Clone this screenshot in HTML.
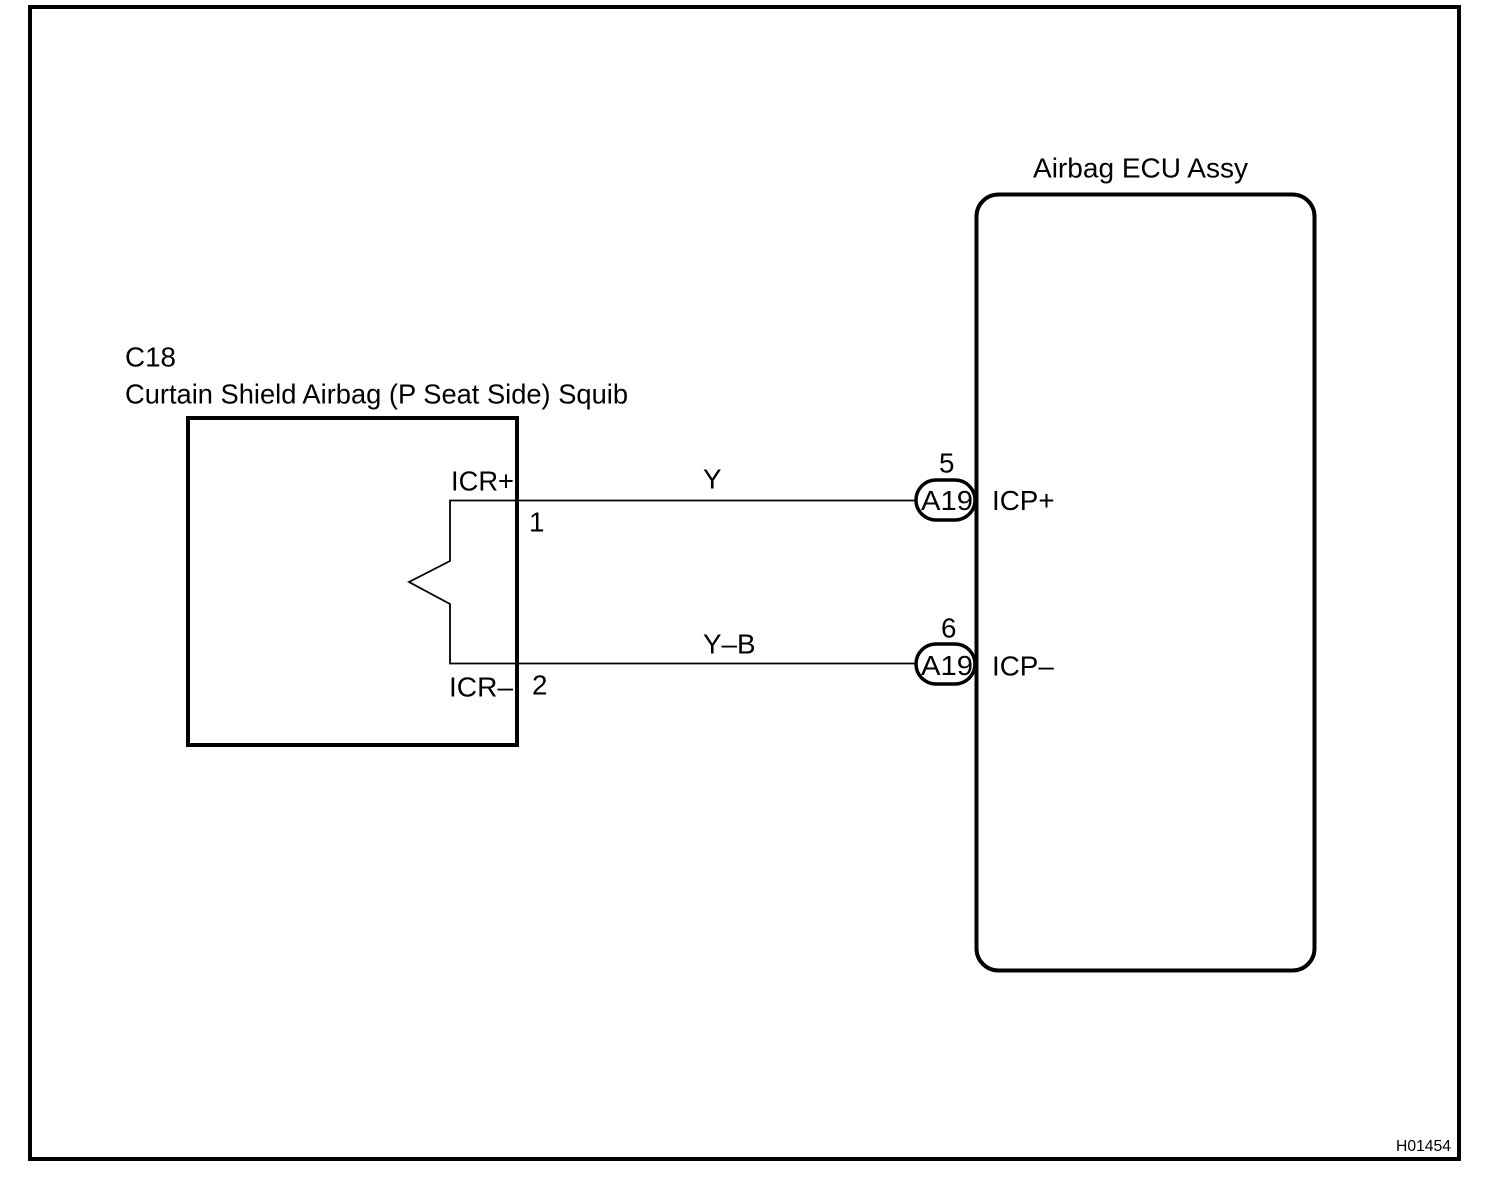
<!DOCTYPE html>
<html>
<head>
<meta charset="utf-8">
<style>
html,body{margin:0;padding:0;background:#fff;width:1504px;height:1188px;overflow:hidden}
svg{display:block}
text{font-family:"Liberation Sans",sans-serif;font-size:27.8px;fill:#000}
</style>
</head>
<body>
<svg width="1504" height="1188" viewBox="0 0 1504 1188" xmlns="http://www.w3.org/2000/svg">
<rect x="0" y="0" width="1504" height="1188" fill="#fff"/>
<rect x="30" y="7" width="1429" height="1152" fill="none" stroke="#000" stroke-width="4"/>
<rect x="188" y="418" width="329" height="327" fill="none" stroke="#000" stroke-width="4"/>
<rect x="976.5" y="194.5" width="338" height="776" rx="22" ry="22" fill="none" stroke="#000" stroke-width="4"/>
<path d="M916 500.5H450V561L409 582L450 604V663.5H916" fill="none" stroke="#000" stroke-width="1.8"/>
<rect x="916" y="480" width="59" height="40" rx="20" ry="20" fill="#fff" stroke="#000" stroke-width="3.5"/>
<rect x="916" y="644" width="59" height="40" rx="20" ry="20" fill="#fff" stroke="#000" stroke-width="3.5"/>
<text x="1033" y="177.5" textLength="215" lengthAdjust="spacingAndGlyphs">Airbag ECU Assy</text>
<text x="125" y="366.5">C18</text>
<text x="125" y="403.5" textLength="503" lengthAdjust="spacingAndGlyphs">Curtain Shield Airbag (P Seat Side) Squib</text>
<text x="451" y="490.5" textLength="63" lengthAdjust="spacingAndGlyphs">ICR+</text>
<text x="449" y="696.5" textLength="64" lengthAdjust="spacingAndGlyphs">ICR–</text>
<text x="529" y="531.5">1</text>
<text x="532" y="694.5">2</text>
<text x="703" y="488.5">Y</text>
<text x="703" y="653.5">Y–B</text>
<text x="939" y="472.5">5</text>
<text x="941" y="637.5">6</text>
<text x="921" y="510" textLength="52" lengthAdjust="spacingAndGlyphs">A19</text>
<text x="921" y="675" textLength="52" lengthAdjust="spacingAndGlyphs">A19</text>
<text x="992" y="510">ICP+</text>
<text x="992" y="675.5">ICP–</text>
<text x="1396" y="1151" textLength="55" lengthAdjust="spacingAndGlyphs" style="font-size:15.8px">H01454</text>
</svg>
</body>
</html>
